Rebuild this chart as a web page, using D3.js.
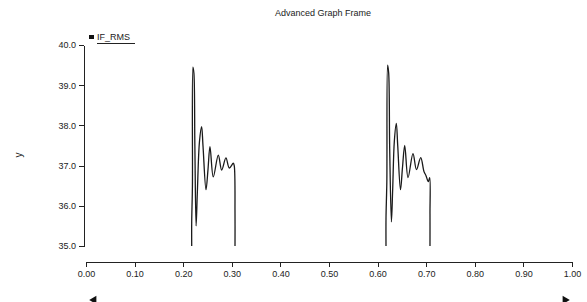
<!DOCTYPE html>
<html lang="en">
<head>
    <meta charset="UTF-8">
    <title>Advanced Graph Frame</title>
    <script src="https://d3js.org/d3.v7.min.js"></script>
    <style>
        body { margin: 0; background: #fff; }
        svg { display: block; font-family: "Liberation Sans", Arial, sans-serif; }
        .axis path, .axis line { stroke: #222; shape-rendering: crispEdges; }
        .axis text { font-size: 9px; fill: #222; }
    </style>
</head>
<body>
<div id="chart"></div>
<script>
    // tick values
    const xTicks = [0, 0.1, 0.2, 0.3, 0.4, 0.5, 0.6, 0.7, 0.8, 0.9, 1.0];
    const yTicks = [35, 36, 37, 38, 39, 40];

    // IF_RMS, first burst
    const burst1T = [0.2175, 0.2175, 0.219, 0.220, 0.222, 0.224, 0.2265, 0.229, 0.2335, 0.2379,
                     0.2407, 0.2469, 0.251, 0.2551, 0.2619, 0.2722, 0.2792, 0.2879, 0.2949,
                     0.3031, 0.305, 0.3066, 0.3066];
    const burst1V = [35.0, 35.6, 36.5, 39.45, 39.3, 37.5, 35.5, 36.3, 37.6, 37.97,
                     37.5, 36.4, 36.9, 37.47, 36.72, 37.26, 36.89, 37.19, 36.94,
                     37.06, 37.0, 35.8, 35.0];

    // IF_RMS, second burst
    const burst2T = [0.6173, 0.6173, 0.619, 0.6206, 0.6228, 0.6249, 0.6284, 0.631, 0.6344, 0.6385,
                     0.6414, 0.6471, 0.6512, 0.6558, 0.6626, 0.6728, 0.68, 0.6887, 0.6955,
                     0.6996, 0.7043, 0.7072, 0.7078, 0.7078];
    const burst2V = [35.0, 35.7, 36.6, 39.5, 39.3, 37.4, 35.6, 36.4, 37.6, 38.05,
                     37.5, 36.4, 36.95, 37.5, 36.7, 37.3, 36.9, 37.2, 36.85,
                     36.75, 36.6, 36.7, 35.8, 35.0];

    const width = 587, height = 302;

    const svg = d3.select("#chart").append("svg")
        .attr("width", width)
        .attr("height", height);

    const x = d3.scaleLinear().domain([0, 1]).range([86, 572]);
    const y = d3.scaleLinear().domain([35, 40]).range([246, 45]);

    // title
    svg.append("text")
        .attr("x", 323).attr("y", 16)
        .attr("text-anchor", "middle")
        .style("font-size", "9px")
        .attr("fill", "#222")
        .text("Advanced Graph Frame");

    // y axis
    svg.append("g")
        .attr("class", "axis")
        .attr("transform", "translate(84,0)")
        .call(d3.axisLeft(y).tickValues(yTicks).tickFormat(d3.format(".1f")).tickSize(5).tickSizeOuter(0).tickPadding(3));

    // x axis
    svg.append("g")
        .attr("class", "axis")
        .attr("transform", "translate(0,262)")
        .call(d3.axisBottom(x).tickValues(xTicks).tickFormat(d3.format(".2f")).tickSize(5).tickSizeOuter(0).tickPadding(4));

    // y label
    svg.append("text")
        .attr("transform", "translate(22,155) rotate(-90)")
        .attr("text-anchor", "middle")
        .style("font-size", "10px")
        .attr("fill", "#222")
        .text("y");

    // data lines, smoothed a bit like the scanned trace
    const line = d3.line()
        .curve(d3.curveCatmullRom.alpha(0.5))
        .x(d => x(d[0]))
        .y(d => y(d[1]));

    [[burst1T, burst1V], [burst2T, burst2V]].forEach(([t, v]) => {
        svg.append("path")
            .datum(t.map((d, i) => [d, v[i]]))
            .attr("fill", "none")
            .attr("stroke", "#1a1a1a")
            .attr("stroke-width", 1.3)
            .attr("d", line);
    });

    // legend
    svg.append("rect")
        .attr("x", 89).attr("y", 35)
        .attr("width", 5).attr("height", 4)
        .attr("fill", "#111");
    svg.append("text")
        .attr("x", 97).attr("y", 40)
        .style("font-size", "9px")
        .attr("fill", "#222")
        .text("IF_RMS");
    svg.append("line")
        .attr("x1", 97).attr("x2", 135)
        .attr("y1", 43.5).attr("y2", 43.5)
        .attr("stroke", "#222");

    // scrollbar arrows at the bottom edge
    svg.append("path")
        .attr("d", d3.symbol(d3.symbolTriangle, 30)())
        .attr("transform", "translate(94,300) rotate(-90)")
        .attr("fill", "#111");
    svg.append("path")
        .attr("d", d3.symbol(d3.symbolTriangle, 30)())
        .attr("transform", "translate(565,300) rotate(90)")
        .attr("fill", "#111");
</script>
</body>
</html>
